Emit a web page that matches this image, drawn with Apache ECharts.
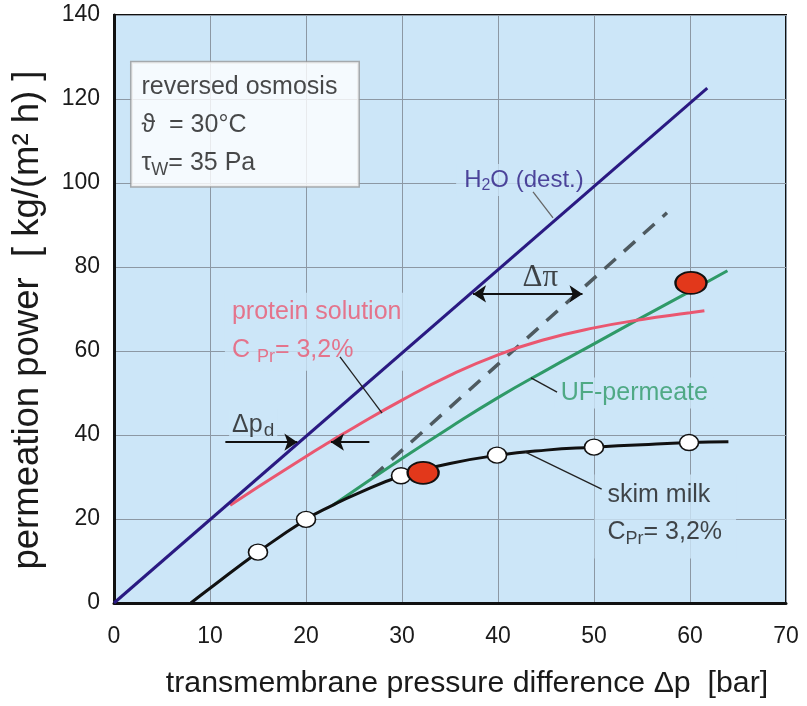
<!DOCTYPE html>
<html><head><meta charset="utf-8">
<script src="https://cdn.jsdelivr.net/npm/echarts@6/dist/echarts.min.js"></script>
<style>html,body{margin:0;padding:0;background:#fff}#c{width:807px;height:706px}</style>
</head><body><div id="c"></div>
<script>
// ---- data ----
const xTicks = [0, 10, 20, 30, 40, 50, 60, 70];
const yTicks = [0, 20, 40, 60, 80, 100, 120, 140];
const h2oLine = [[0, 0], [61.8, 122.6]];
const proteinSolution = [[12.1, 23.3], [15, 27.6], [20, 34.9], [22.5, 38.4], [25, 41.8], [30, 48.3], [35, 54.2], [40, 59.1], [45, 62.8], [50, 65.5], [55, 67.5], [60, 69.1], [61.5, 69.6]];
const ufPermeate = [[22.8, 23.3], [30, 34.4], [35, 41.8], [40, 48.9], [45, 55.4], [50, 61.7], [55, 68], [60, 74.2], [63.9, 79.1]];
const dashedLine = [[26.9, 30], [57.6, 92.9]];
const skimMilk = [[8, 0], [10, 3.5], [15, 12.1], [20, 19.9], [22.8, 23.3], [25, 25.7], [30, 30.3], [35, 33.2], [40, 35.2], [45, 36.4], [50, 37.1], [55, 37.7], [60, 38.2], [64, 38.4]];
const skimMilkPoints = [[15, 12.1], [20, 19.9], [29.9, 30.3], [39.9, 35.2], [50, 37.1], [59.9, 38.2]];
const highlightPoints = [[32.2, 31], [60.1, 76.2]];

const FONT = 'Liberation Sans, Arial, sans-serif';
const BG = '#cce6f8';
const chart = echarts.init(document.getElementById('c'), null, {renderer: 'canvas'});

function textPoint(x, y, label) {
  return {value: [x, y], label: Object.assign({show: true, fontFamily: FONT}, label)};
}

const option = {
  animation: false,
  backgroundColor: '#fff',
  grid: {left: 114, top: 15, width: 672, height: 588, show: true, backgroundColor: BG, borderColor: '#111', borderWidth: 2},
  xAxis: {
    type: 'value', min: xTicks[0], max: xTicks[xTicks.length - 1], interval: 10,
    name: 'transmembrane pressure difference Δp  [bar]', nameLocation: 'middle', nameGap: 66,
    nameTextStyle: {fontFamily: FONT, fontSize: 30.3, color: '#1a1a1a', padding: [0, 0, 0, 34]},
    axisLine: {show: true, onZero: false, lineStyle: {color: '#111', width: 3}},
    axisTick: {show: false},
    axisLabel: {fontFamily: FONT, fontSize: 23, color: '#1a1a1a', margin: 22},
    splitLine: {show: true, lineStyle: {color: '#8c98a4', width: 1}}
  },
  yAxis: {
    type: 'value', min: yTicks[0], max: yTicks[yTicks.length - 1], interval: 20,
    name: 'permeation power  [ kg/(m² h) ]', nameLocation: 'middle', nameGap: 68,
    nameTextStyle: {fontFamily: FONT, fontSize: 36.5, color: '#1a1a1a', padding: [0, 22, 0, 0]},
    axisLine: {show: true, onZero: false, lineStyle: {color: '#111', width: 3}},
    axisTick: {show: false},
    axisLabel: {fontFamily: FONT, fontSize: 23, color: '#1a1a1a', margin: 14},
    splitLine: {show: true, lineStyle: {color: '#8c98a4', width: 1}}
  },
  series: [
    // text annotations (below the curves)
    {type: 'scatter', symbol: 'circle', symbolSize: 1, silent: true, z: 2, itemStyle: {color: 'rgba(0,0,0,0)'},
      labelLayout: {hideOverlap: false},
      data: [
        textPoint(1.77, 114.0, {position: 'right', distance: 0, formatter: '{a|reversed osmosis}\n{a|ϑ  = 30°C}\n{a|τ}{s|W}{a|= 35 Pa}',
          backgroundColor: '#fff', borderColor: '#9a9a9a', borderWidth: 1.5, padding: [6, 10, 4, 10], width: 207, lineHeight: 38,
          rich: {a: {fontFamily: FONT, fontSize: 25, color: '#1a1a1a', lineHeight: 38}, s: {fontFamily: FONT, fontSize: 18, color: '#1a1a1a', lineHeight: 38, padding: [14, 0, 0, 0]}}}),
        textPoint(42.7, 100.7, {position: 'inside', formatter: '{a|H}{s|2}{a|O (dest.)}', backgroundColor: BG, padding: [2, 8, 2, 8],
          rich: {a: {fontFamily: FONT, fontSize: 24, color: '#2a1a82'}, s: {fontFamily: FONT, fontSize: 16, color: '#2a1a82', padding: [12, 0, 0, 0]}}}),
        textPoint(44.4, 77.3, {position: 'inside', formatter: 'Δπ', fontFamily: 'Liberation Serif, serif', fontSize: 31, color: '#1a1a1a'}),
        textPoint(14.5, 42.4, {position: 'inside', formatter: '{a|Δp}{s|d}', backgroundColor: BG, padding: [0, 3, 0, 3],
          rich: {a: {fontFamily: FONT, fontSize: 25, color: '#1a1a1a'}, s: {fontFamily: FONT, fontSize: 19, color: '#1a1a1a', padding: [12, 0, 0, 1]}}}),
        textPoint(11.5, 64.6, {position: 'right', distance: 0, formatter: '{a|protein solution}\n{a|C }{s|Pr}{a|= 3,2%}', backgroundColor: BG, padding: [0, 6, 2, 7],
          rich: {a: {fontFamily: FONT, fontSize: 25, color: '#ea5770', lineHeight: 38}, s: {fontFamily: FONT, fontSize: 18, color: '#ea5770', lineHeight: 38, padding: [14, 0, 0, 0]}}}),
        textPoint(54.2, 50.0, {position: 'inside', formatter: 'UF-permeate', fontSize: 25, color: '#2f9a68', backgroundColor: BG, padding: [3, 6, 3, 6]}),
        textPoint(50.0, 20.6, {position: 'right', distance: 0, formatter: '{a|skim milk}\n{a|C}{s|Pr}{a|= 3,2%}', backgroundColor: BG, padding: [2, 14, 8, 13],
          rich: {a: {fontFamily: FONT, fontSize: 25, color: '#1a1a1a', lineHeight: 37}, s: {fontFamily: FONT, fontSize: 18, color: '#1a1a1a', lineHeight: 37, padding: [14, 0, 0, 0]}}})
      ]},
    {type: 'line', data: dashedLine, showSymbol: false, lineStyle: {color: '#4e5a60', width: 3.5, type: [15, 11]}, z: 3},
    {type: 'line', data: ufPermeate, showSymbol: false, smooth: 0.5, lineStyle: {color: '#2f9a68', width: 3}, z: 4},
    {type: 'line', data: proteinSolution, showSymbol: false, smooth: 0.5, lineStyle: {color: '#ea5770', width: 3}, z: 4},
    {type: 'line', data: h2oLine, showSymbol: false, lineStyle: {color: '#2a1a82', width: 3}, z: 5},
    {type: 'line', data: skimMilk, showSymbol: false, smooth: 0.5, lineStyle: {color: '#111', width: 3}, z: 5},
    {type: 'scatter', data: skimMilkPoints, symbol: 'circle', symbolSize: [19, 16], itemStyle: {color: '#fff', borderColor: '#111', borderWidth: 1.5, opacity: 1}, z: 6},
    {type: 'scatter', data: highlightPoints, symbol: 'circle', symbolSize: [31, 22], itemStyle: {color: '#e2381b', borderColor: '#111', borderWidth: 2, opacity: 1}, z: 7},
    // arrows
    {type: 'lines', coordinateSystem: 'cartesian2d', z: 6, symbolSize: [13, 13],
      lineStyle: {color: '#111', width: 2, opacity: 1, curveness: 0},
      data: [
        {coords: [[37.4, 73.6], [48.8, 73.6]], symbol: ['arrow', 'arrow']},
        {coords: [[11.6, 38.3], [19.1, 38.3]], symbol: ['none', 'arrow']},
        {coords: [[26.6, 38.3], [22.6, 38.3]], symbol: ['none', 'arrow']}
      ]},
    // leader lines
    {type: 'lines', coordinateSystem: 'cartesian2d', z: 6, symbol: ['none', 'none'],
      lineStyle: {color: '#222', width: 1.3, opacity: 1, curveness: 0},
      data: [
        {coords: [[43.65, 97.9], [45.73, 91.7]], lineStyle: {color: '#666'}},
        {coords: [[23.54, 58.6], [27.92, 45.2]]},
        {coords: [[43.44, 53.6], [46.15, 50.2]]},
        {coords: [[42.8, 36.0], [50.8, 27.1]]}
      ]}
  ]
};
chart.setOption(option);
</script></body></html>
